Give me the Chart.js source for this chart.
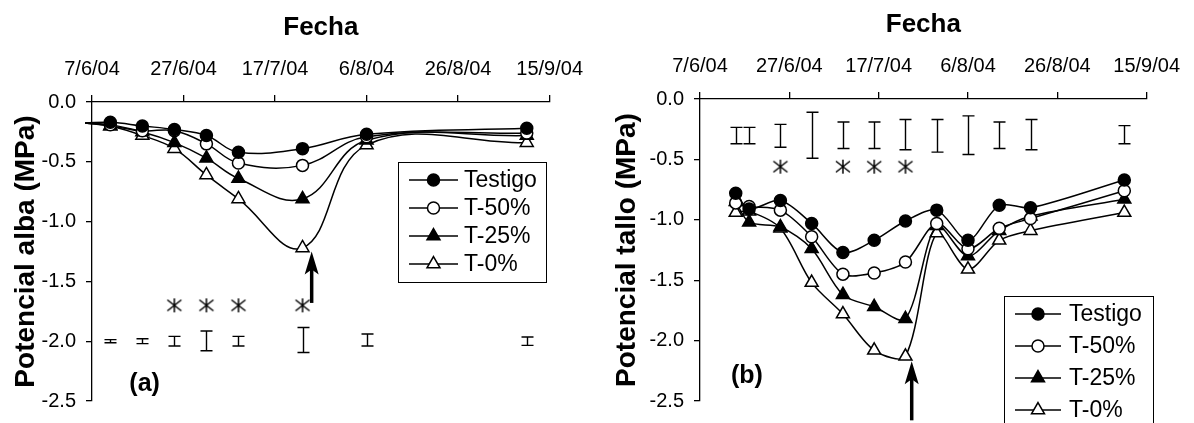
<!DOCTYPE html>
<html>
<head>
<meta charset="utf-8">
<script src="https://cdn.jsdelivr.net/npm/chart.js@4.4.1/dist/chart.umd.min.js"></script>
<style>
    html, body {margin: 0; padding: 0; background: #fff;}
    .panel {position: absolute; top: 0; width: 597px; height: 423px;}
    #panelA {left: 0;}
    #panelB {left: 597px;}
</style>
</head>
<body>
<div class="panel" id="panelA"><canvas id="chartA" width="597" height="423"></canvas></div>
<div class="panel" id="panelB"><canvas id="chartB" width="597" height="423"></canvas></div>
<script>
//data - common (x values are days since 7/6/04)
const seriesNames = ['Testigo', 'T-50%', 'T-25%', 'T-0%'];
const xTickLabels = ['7/6/04', '27/6/04', '17/7/04', '6/8/04', '26/8/04', '15/9/04'];

//data - (a) potencial alba
const daysA = [4, 11, 18, 25, 32, 46, 60, 95];
const testigoA = [-0.17, -0.20, -0.23, -0.28, -0.42, -0.39, -0.27, -0.22];
const t50A = [-0.19, -0.24, -0.24, -0.35, -0.51, -0.53, -0.29, -0.26];
const t25A = [-0.20, -0.25, -0.34, -0.47, -0.64, -0.81, -0.32, -0.28];
const t0A = [-0.20, -0.28, -0.39, -0.61, -0.81, -1.22, -0.36, -0.34];
const leadA = [-1.5, -0.175];
const errLowA = [-2.013, -2.02, -2.04, -2.08, -2.04, -2.095, -2.04, -2.035];
const errHighA = [-1.987, -1.98, -1.96, -1.915, -1.96, -1.885, -1.94, -1.965];
const starDaysA = [18, 25, 32, 46];
const starLevelA = -1.7;
const arrowA = [48, -1.68, -1.25];
const tagA = ['(a)', 11.5, -2.36];

//data - (b) potencial tallo
const daysB = [8, 11, 18, 25, 32, 39, 46, 53, 60, 67, 74, 95];
const testigoB = [-0.78, -0.91, -0.84, -1.03, -1.27, -1.17, -1.01, -0.92, -1.17, -0.88, -0.90, -0.67];
const t50B = [-0.86, -0.89, -0.92, -1.14, -1.45, -1.44, -1.35, -1.03, -1.24, -1.07, -0.99, -0.76];
const t25B = [-0.85, -1.02, -1.06, -1.24, -1.62, -1.72, -1.82, -1.05, -1.30, -1.09, -0.97, -0.83];
const t0B = [-0.94, -0.93, -1.07, -1.52, -1.78, -2.08, -2.13, -1.11, -1.41, -1.17, -1.09, -0.94];
const errLowB = [-0.37, -0.37, -0.40, -0.49, -0.41, -0.41, -0.42, -0.44, -0.46, -0.41, -0.42, -0.37];
const errHighB = [-0.235, -0.235, -0.21, -0.11, -0.19, -0.19, -0.17, -0.17, -0.14, -0.19, -0.17, -0.22];
const starDaysB = [18, 32, 39, 46];
const starLevelB = -0.56;
const arrowB = [47.4, -2.66, -2.17];
const tagB = ['(b)', 10.5, -2.29];

const FONT = '"Liberation Sans", Arial, sans-serif';
Chart.defaults.font.family = FONT;
Chart.defaults.color = '#000';

const markers = [
    {pointStyle: 'circle', fill: '#000', r: 6},
    {pointStyle: 'circle', fill: '#fff', r: 6},
    {pointStyle: 'triangle', fill: '#000', r: 7.5},
    {pointStyle: 'triangle', fill: '#fff', r: 7.5}
];

//asterisk used for the significance marks
const star = document.createElement('canvas');
star.width = 18;
star.height = 16;
(function(){
    const c = star.getContext('2d');
    c.strokeStyle = '#000';
    c.lineWidth = 1.5;
    c.beginPath();
    c.moveTo(9, 1); c.lineTo(9, 15);
    c.moveTo(2, 2.5); c.lineTo(16, 13.5);
    c.moveTo(16, 2.5); c.lineTo(2, 13.5);
    c.stroke();
})();

function lineSets(days, series, lead, tension) {
    return series.map((vals, i) => {
        const pts = days.map((d, j) => ({x: d, y: vals[j]}));
        if (lead) pts.unshift({x: lead[0], y: lead[1]});
        return {
            label: seriesNames[i],
            data: pts,
            borderColor: '#000',
            borderWidth: 1.5,
            pointStyle: markers[i].pointStyle,
            pointRadius: pts.map((p, j) => (lead && j === 0) ? 0 : markers[i].r),
            pointBackgroundColor: markers[i].fill,
            pointBorderColor: '#000',
            pointBorderWidth: 1.5,
            tension: tension,
            clip: false,
            fill: false
        };
    });
}

function starSet(days, level) {
    return {
        label: '',
        data: days.map(d => ({x: d, y: level})),
        showLine: false,
        pointStyle: star,
        pointRadius: 9,
        clip: false
    };
}

function extras(cfg) {
    return {
        id: 'extras',
        afterDatasetsDraw(chart) {
            const {ctx, scales: {x, y}} = chart;
            ctx.save();
            ctx.strokeStyle = '#000';
            ctx.fillStyle = '#000';
            //error bars
            ctx.lineWidth = 1.4;
            cfg.errDays.forEach((d, i) => {
                const px = Math.round(x.getPixelForValue(d)) + 0.5;
                const y1 = y.getPixelForValue(cfg.errLow[i]);
                const y2 = y.getPixelForValue(cfg.errHigh[i]);
                ctx.beginPath();
                ctx.moveTo(px, y1); ctx.lineTo(px, y2);
                ctx.moveTo(px - 6, y1); ctx.lineTo(px + 6, y1);
                ctx.moveTo(px - 6, y2); ctx.lineTo(px + 6, y2);
                ctx.stroke();
            });
            //arrow
            const ax = x.getPixelForValue(cfg.arrow[0]);
            const yb = y.getPixelForValue(cfg.arrow[1]);
            const yt = y.getPixelForValue(cfg.arrow[2]);
            ctx.lineWidth = 3.5;
            ctx.beginPath();
            ctx.moveTo(ax, yb); ctx.lineTo(ax, yt + 16);
            ctx.stroke();
            ctx.beginPath();
            ctx.moveTo(ax, yt);
            ctx.lineTo(ax - 7, yt + 23);
            ctx.lineTo(ax, yt + 18);
            ctx.lineTo(ax + 7, yt + 23);
            ctx.closePath();
            ctx.fill();
            //panel tag
            ctx.font = 'bold 25px ' + FONT;
            ctx.textAlign = 'center';
            ctx.textBaseline = 'middle';
            ctx.fillText(cfg.tag[0], x.getPixelForValue(cfg.tag[1]), y.getPixelForValue(cfg.tag[2]));
            ctx.restore();
        },
        afterDraw(chart) {
            //legend box
            const {ctx} = chart;
            const lg = cfg.legend;
            ctx.save();
            ctx.fillStyle = '#fff';
            ctx.fillRect(lg.x, lg.y, lg.w, lg.h);
            ctx.strokeStyle = '#000';
            ctx.lineWidth = 1;
            ctx.strokeRect(lg.x + 0.5, lg.y + 0.5, lg.w, lg.h);
            ctx.font = '23px ' + FONT;
            ctx.textBaseline = 'middle';
            ctx.textAlign = 'left';
            seriesNames.forEach((name, i) => {
                const yy = lg.y + lg.first + i * lg.row;
                ctx.strokeStyle = '#000';
                ctx.lineWidth = 1.5;
                ctx.beginPath();
                ctx.moveTo(lg.x + lg.l0, yy);
                ctx.lineTo(lg.x + lg.l1, yy);
                ctx.stroke();
                ctx.fillStyle = markers[i].fill;
                Chart.helpers.drawPoint(ctx, {
                    pointStyle: markers[i].pointStyle,
                    radius: markers[i].r,
                    rotation: 0,
                    borderWidth: 1.5
                }, lg.x + (lg.l0 + lg.l1) / 2, yy);
                ctx.fillStyle = '#000';
                ctx.fillText(name, lg.x + lg.tx, yy + 1);
            });
            ctx.restore();
        }
    };
}

function makeChart(id, o) {
    const ctx = document.getElementById(id).getContext('2d');
    new Chart(ctx, {
        type: 'line',
        data: {
            datasets: lineSets(o.days, o.series, o.lead, o.tension).concat([starSet(o.starDays, o.starLevel)])
        },
        options: {
            responsive: false,
            devicePixelRatio: 1,
            animation: false,
            events: [],
            layout: {padding: {left: 0, top: 0, right: o.padRight, bottom: o.padBottom}},
            plugins: {
                legend: {display: false},
                tooltip: {enabled: false}
            },
            scales: {
                x: {
                    type: 'linear',
                    position: 'top',
                    min: 0,
                    max: 100,
                    afterFit: s => { s.height = o.top; },
                    ticks: {
                        stepSize: 20,
                        autoSkip: false,
                        maxRotation: 0,
                        padding: 14,
                        color: '#000',
                        font: {size: 20},
                        callback: v => xTickLabels[Math.round(v / 20)]
                    },
                    grid: {drawOnChartArea: false, drawTicks: true, tickLength: 7, color: '#000', lineWidth: 1.3},
                    border: {display: true, color: '#000', width: 1.3},
                    title: {
                        display: true,
                        text: 'Fecha',
                        color: '#000',
                        font: {size: 26, weight: 'bold'},
                        padding: {top: o.titleTop, bottom: 0}
                    }
                },
                y: {
                    min: -2.5,
                    max: 0,
                    afterFit: s => { s.width = o.left; },
                    ticks: {
                        stepSize: 0.5,
                        padding: 10,
                        color: '#000',
                        font: {size: 20},
                        callback: v => v.toFixed(1)
                    },
                    grid: {drawOnChartArea: false, drawTicks: true, tickLength: 6, color: '#000', lineWidth: 1.3},
                    border: {display: true, color: '#000', width: 1.3},
                    title: {
                        display: true,
                        text: o.yTitle,
                        color: '#000',
                        font: {size: 28, weight: 'bold'},
                        padding: {top: o.yTitlePad, bottom: 0}
                    }
                }
            }
        },
        plugins: [extras(o)]
    });
}

makeChart('chartA', {
    days: daysA,
    series: [testigoA, t50A, t25A, t0A],
    lead: leadA,
    tension: 0.4,
    starDays: starDaysA,
    starLevel: starLevelA,
    errDays: daysA,
    errLow: errLowA,
    errHigh: errHighA,
    arrow: arrowA,
    tag: tagA,
    yTitle: 'Potencial alba (MPa)',
    left: 92, top: 102, padRight: 44, padBottom: 20,
    titleTop: 12, yTitlePad: 9,
    legend: {x: 398, y: 162, w: 148, h: 120, first: 18, row: 28, l0: 11, l1: 60, tx: 66}
});

makeChart('chartB', {
    days: daysB,
    series: [testigoB, t50B, t25B, t0B],
    lead: null,
    tension: 0.3,
    starDays: starDaysB,
    starLevel: starLevelB,
    errDays: daysB,
    errLow: errLowB,
    errHigh: errHighB,
    arrow: arrowB,
    tag: tagB,
    yTitle: 'Potencial tallo (MPa)',
    left: 103, top: 99, padRight: 38, padBottom: 18,
    titleTop: 9, yTitlePad: 13,
    legend: {x: 407, y: 296, w: 149, h: 140, first: 18, row: 32, l0: 11, l1: 57, tx: 65}
});
</script>
</body>
</html>
